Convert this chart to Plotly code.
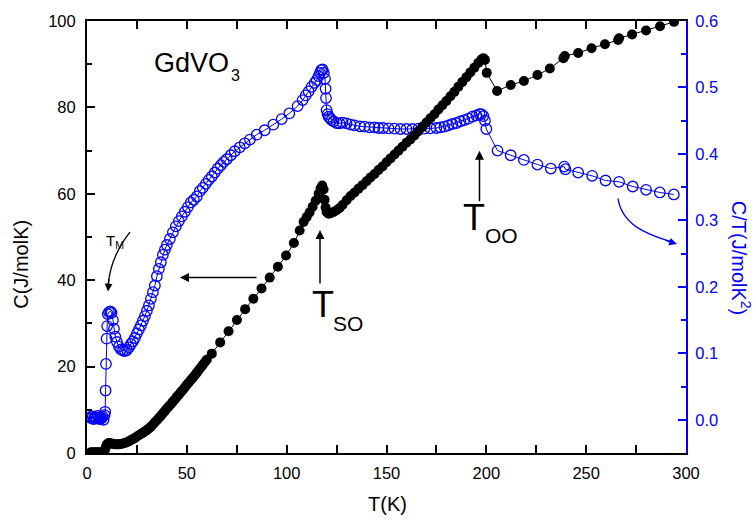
import plotly.graph_objects as go

# ---------------- data ----------------
# Black filled circles: C (J/molK) vs T (K), left axis
c_T_low = [2, 3, 4, 5, 6, 7, 8, 8.7, 9.2, 9.6, 10, 10.5, 11, 11.5, 12,
           13, 14, 15, 16, 17, 18, 19, 20, 21, 22, 23, 24, 25, 26, 27, 28, 29, 30,
           31, 32, 33, 34, 35, 36, 37, 38, 39, 40, 41, 42, 43, 44, 45, 46, 47, 48,
           49, 50, 51, 52, 53, 54, 55, 56, 57, 58, 59, 60]
c_C_low = [0.2, 0.2, 0.2, 0.2, 0.2, 0.2, 0.3, 0.5, 1.0, 1.6, 2.0, 2.2, 2.3, 2.3, 2.2,
           2.1, 2.0, 2.0, 2.0, 2.1, 2.2, 2.3, 2.5, 2.7, 3.0, 3.2, 3.5, 3.8, 4.1, 4.4, 4.7, 5.0, 5.3,
           5.7, 6.1, 6.6, 7.1, 7.6, 8.1, 8.6, 9.2, 9.7, 10.3, 10.8, 11.3, 11.9, 12.4, 13.0, 13.5, 14.1, 14.6,
           15.2, 15.8, 16.3, 16.9, 17.4, 18.0, 18.6, 19.2, 19.8, 20.4, 21.0, 21.6]
c_T_mid = [62.5, 66.7, 70.9, 75.1, 79.2, 83.3, 87.4, 91.5, 95.6, 99.7, 103.6, 106.5, 108.5,
           110, 111.5, 113, 114.5, 116, 117, 117.8, 118.5, 119, 119.5, 120, 121, 122, 123.5,
           125, 126.5, 128, 130, 132, 134, 136, 138, 140, 142, 144, 146, 148, 150, 152, 154,
           156, 158, 160, 162, 164, 166, 168, 170, 172, 174, 176, 178, 180, 182, 184, 186,
           188, 190, 192, 194, 196, 197.5, 198.5, 199.3]
c_C_mid = [23.0, 25.6, 28.2, 30.8, 33.3, 35.7, 38.1, 40.6, 43.1, 45.7, 48.6, 51.5, 53.5,
           54.6, 55.7, 57.0, 58.4, 60.0, 61.3, 61.9, 61.0, 58.6, 56.8, 55.8, 55.4, 55.5, 55.8,
           56.2, 56.7, 57.4, 58.5, 59.5, 60.3, 61.2, 62.0, 62.9, 63.8, 64.6, 65.5, 66.3, 67.3, 68.2, 69.1,
           70.0, 70.9, 71.8, 72.6, 73.5, 74.5, 75.5, 76.5, 77.5, 78.4, 79.5, 80.5, 81.5, 82.6, 83.6, 84.8,
           85.9, 87.0, 88.1, 89.2, 90.3, 91.1, 91.4, 91.0]
c_T_high = [200.2, 205.4, 212.2, 218.8, 225.6, 231.8, 238.6, 239.3, 246, 252.7, 259.4,
            266, 266.5, 273, 280, 287, 294]
c_C_high = [88.0, 83.8, 85.2, 86.1, 87.5, 89.0, 91.4, 91.9, 92.6, 93.7, 94.6,
            95.6, 96.0, 96.9, 97.8, 98.8, 99.8]

# Blue open circles: C/T (J/molK^2) vs T (K), right axis
ct_T_low = [1.8, 2.3, 2.8, 3.3, 3.8, 4.3, 4.8, 5.3, 5.8, 6.3, 6.8, 7.3, 7.8, 8.3, 8.8]
ct_V_low = [0.004, 0.002, 0.005, 0.001, 0.003, 0.004, 0.002, 0.006, 0.003, 0.001,
            0.004, 0.002, 0.005, 0.0, 0.007]
ct_T_rise = [9.1, 9.3, 9.5, 9.8, 10.1, 10.4, 11.0, 11.7, 12.3, 13.0, 13.5, 14.2, 15.0,
             16, 17, 18, 19, 20, 21, 22, 23, 24, 25, 26, 27, 28, 29, 30, 31, 32, 33, 34,
             35, 36, 37, 38, 39, 40]
ct_V_rise = [0.012, 0.044, 0.084, 0.122, 0.141, 0.159, 0.162, 0.163, 0.161, 0.15, 0.137, 0.125, 0.117,
             0.11, 0.106, 0.104, 0.1035, 0.105, 0.109, 0.114, 0.118, 0.123, 0.13, 0.136, 0.142, 0.149,
             0.156, 0.164, 0.172, 0.182, 0.192, 0.202, 0.216, 0.227, 0.237, 0.248, 0.256, 0.263]
ct_T_mid = [41.5, 43, 44.5, 46, 47.5, 49, 50.5, 52, 53.5, 55, 56.5, 58, 59.5, 61, 62.5, 64,
            65.5, 67, 68.5, 70, 72, 74, 76.5, 79, 81.6, 85, 89, 93.3, 97.5, 101.3, 105.5, 108,
            109.5, 111, 112.5, 114, 115, 116, 116.7, 117.3, 118, 118.6, 119.2, 119.5, 119.7, 120]
ct_V_mid = [0.272, 0.282, 0.291, 0.299, 0.306, 0.313, 0.32, 0.327, 0.331, 0.336, 0.344, 0.349,
            0.355, 0.361, 0.366, 0.372, 0.378, 0.383, 0.388, 0.392, 0.398, 0.404, 0.41, 0.416,
            0.4216, 0.429, 0.4356, 0.444, 0.4524, 0.461, 0.472, 0.481, 0.488, 0.494, 0.501,
            0.507, 0.511, 0.517, 0.522, 0.526, 0.527, 0.522, 0.513, 0.498, 0.484, 0.466]
ct_T_plat = [120.5, 121, 121.7, 122.5, 123.5, 125, 126.5, 128, 130, 132, 134, 136.7, 139,
             141.5, 144, 146, 148.3, 151, 154, 157, 160, 163, 166, 169, 172, 175, 177, 179,
             181, 183, 185, 187, 189, 191, 193, 195, 196.5, 197.5, 198.5, 199.3, 200]
ct_V_plat = [0.46, 0.456, 0.454, 0.451, 0.449, 0.4465, 0.446, 0.447, 0.446, 0.444, 0.443,
             0.4415, 0.441, 0.44, 0.44, 0.439, 0.439, 0.4385, 0.438, 0.4375, 0.4375, 0.4375,
             0.438, 0.438, 0.4385, 0.439, 0.44, 0.441, 0.443, 0.445, 0.4465, 0.449, 0.451,
             0.453, 0.456, 0.458, 0.46, 0.46, 0.457, 0.45, 0.4375]
ct_T_high = [205.6, 212.2, 218.8, 225.6, 232.3, 239, 239.6, 246, 253, 259.7, 266.5, 273.3,
             280, 286.9, 293.9]
ct_V_high = [0.405, 0.398, 0.391, 0.384, 0.378, 0.381, 0.377, 0.372, 0.367, 0.36, 0.358,
             0.351, 0.346, 0.342, 0.339]

x_ticks = [0, 50, 100, 150, 200, 250, 300]
c_ticks = [0, 20, 40, 60, 80, 100]
ct_ticks = [0.0, 0.1, 0.2, 0.3, 0.4, 0.5, 0.6]

C_T = c_T_low + c_T_mid + c_T_high
C_V = c_C_low + c_C_mid + c_C_high
CT_T = ct_T_low + ct_T_rise + ct_T_mid + ct_T_plat + ct_T_high
CT_V = ct_V_low + ct_V_rise + ct_V_mid + ct_V_plat + ct_V_high
assert len(C_T) == len(C_V) and len(CT_T) == len(CT_V)

# ---------------- figure ----------------
FONT = "Liberation Sans, Arial, sans-serif"
BLUE = "#0000ff"
W, H = 753, 523
L, R, T, B = 87, 67, 17, 70
PW, PH = W - L - R, H - T - B


def px(x):
    return (x - L) / PW


def py(y):
    return (H - B - y) / PH


fig = go.Figure()
fig.add_trace(go.Scatter(
    x=CT_T, y=CT_V, yaxis="y", mode="lines+markers",
    line=dict(color=BLUE, width=1),
    marker=dict(symbol="circle-open", size=10.5, color=BLUE, line=dict(width=1.3, color=BLUE)),
    showlegend=False, hoverinfo="skip"))
fig.add_trace(go.Scatter(
    x=C_T, y=C_V, yaxis="y2", mode="lines+markers",
    line=dict(color="black", width=1),
    marker=dict(symbol="circle", size=10, color="black"),
    showlegend=False, hoverinfo="skip"))

fig.update_layout(
    width=W, height=H, autosize=False,
    margin=dict(l=L, r=R, t=T, b=B, pad=0),
    paper_bgcolor="white", plot_bgcolor="white",
    font=dict(family=FONT, size=16, color="black"),
    xaxis=dict(range=[0, 300], tickvals=x_ticks, ticks="inside", ticklen=8, tickwidth=1.5,
               tickcolor="black", showline=True, linewidth=2, linecolor="black",
               mirror="allticks", showgrid=False, zeroline=False,
               tickfont=dict(size=16.5, family=FONT, color="black"), ticklabelstandoff=4,
               minor=dict(dtick=25, tick0=0, ticks="inside", ticklen=5, tickwidth=1.5,
                          tickcolor="black", showgrid=False)),
    yaxis=dict(range=[-0.05, 0.6], side="right", tickvals=ct_ticks, tickformat=".1f",
               ticks="inside", ticklen=8, tickwidth=1.5, tickcolor=BLUE,
               showline=True, linewidth=2, linecolor=BLUE, showgrid=False, zeroline=False,
               tickfont=dict(size=16.5, family=FONT, color=BLUE), ticklabelstandoff=4,
               minor=dict(dtick=0.05, tick0=0, ticks="inside", ticklen=5, tickwidth=1.5,
                          tickcolor=BLUE, showgrid=False)),
    yaxis2=dict(range=[0, 100], overlaying="y", side="left", tickvals=c_ticks,
                ticks="inside", ticklen=8, tickwidth=1.5, tickcolor="black",
                showline=True, linewidth=2, linecolor="black", showgrid=False, zeroline=False,
                tickfont=dict(size=16.5, family=FONT, color="black"), ticklabelstandoff=6,
                minor=dict(dtick=10, tick0=0, ticks="inside", ticklen=5, tickwidth=1.5,
                           tickcolor="black", showgrid=False)),
)


def label(text, x, y, size, color="black", xanchor="center", angle=0):
    return dict(text=text, x=px(x), y=py(y), xref="paper", yref="paper",
                xanchor=xanchor, yanchor="middle", showarrow=False, textangle=angle,
                font=dict(size=size, family=FONT, color=color))


ann = []
# axis titles
ann.append(label("T(K)", 387, 504, 20))
ann.append(label("C(J/molK)", 21, 263, 20, angle=-90))
ann.append(label("C/T(J/molK<sup>2</sup>)", 741, 256, 20, color=BLUE, angle=90))
# labels
ann.append(label("GdVO", 152, 59, 27, xanchor="left"))
ann.append(label("3", 235, 72.5, 16))
ann.append(label("T", 322.5, 303, 36))
ann.append(label("SO", 347.5, 322.5, 21))
ann.append(label("T", 474, 215.5, 36))
ann.append(label("OO", 501, 233.5, 21))
ann.append(label("T<sub>M</sub>", 104, 240, 15, xanchor="left"))
# straight arrows
arrow_common = dict(xref="paper", yref="paper", showarrow=True, arrowhead=2,
                    arrowsize=1.2, arrowwidth=1.5, arrowcolor="black", text="")
ann.append(dict(x=px(180), y=py(276), ax=78, ay=0, **arrow_common))
ann.append(dict(x=px(320), y=py(228), ax=0, ay=55, **arrow_common))
ann.append(dict(x=px(479.5), y=py(148), ax=0, ay=52, **arrow_common))
# arrowheads of curved arrows
ann.append(dict(x=px(108), y=py(290), ax=1, ay=-14, xref="paper", yref="paper",
                showarrow=True, arrowhead=2, arrowsize=1.2, arrowwidth=1.3,
                arrowcolor="black", text=""))
ann.append(dict(x=px(677), y=py(242), ax=-13, ay=-4, xref="paper", yref="paper",
                showarrow=True, arrowhead=2, arrowsize=1.2, arrowwidth=1.3,
                arrowcolor=BLUE, text=""))
fig.update_layout(annotations=ann)


def pth(points):
    (x0, y0), (x1, y1), (x2, y2), (x3, y3) = points
    return (f"M {px(x0)},{py(y0)} C {px(x1)},{py(y1)} {px(x2)},{py(y2)} "
            f"{px(x3)},{py(y3)}")


fig.add_shape(type="path", xref="paper", yref="paper",
              path=pth([(130, 230), (119, 244), (110, 262), (108, 284)]),
              line=dict(color="black", width=1.3))
fig.add_shape(type="path", xref="paper", yref="paper",
              path=pth([(618, 196), (622, 222), (645, 232), (672, 240)]),
              line=dict(color=BLUE, width=1.3))

fig.write_html("out.html")
